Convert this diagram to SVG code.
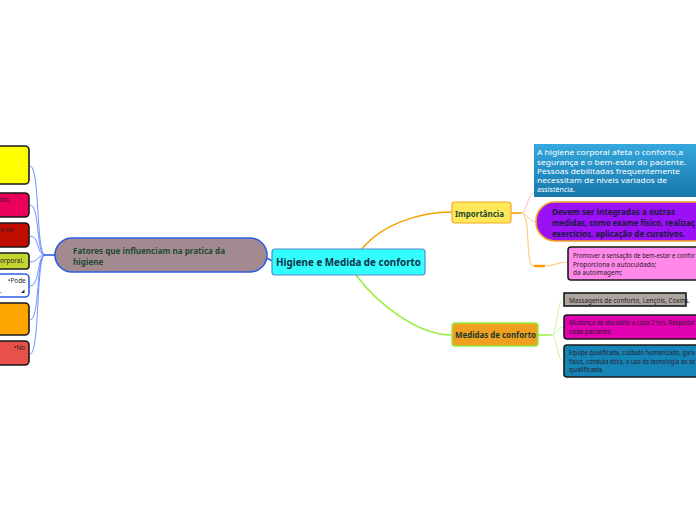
<svg xmlns="http://www.w3.org/2000/svg" width="696" height="520" viewBox="0 0 696 520">
<defs>
<linearGradient id="gblue" x1="0" y1="0" x2="0" y2="1">
<stop offset="0" stop-color="#36A8DE"/>
<stop offset="1" stop-color="#1878AC"/>
</linearGradient>
<style>
text{font-family:"Noto Sans","Open Sans","DejaVu Sans",sans-serif;}
.b{font-weight:bold;}
.lbox{stroke:#1a1a1a;stroke-width:1.6;}
.sm{font-size:6.4px;fill:#2a1a2a;}
.conn{fill:none;}
.lc{stroke:#6f8fff;stroke-width:1;fill:none;}
</style>
</defs>
<rect width="696" height="520" fill="#ffffff"/>
<g id="connectors">
<path class="lc" d="M45,255 C36,255 40,166 30,166"/>
<path class="lc" d="M45,255 C36,255 40,205 30,205"/>
<path class="lc" d="M45,255 C36,255 40,236 30,236"/>
<path class="lc" d="M45,255 C38,255 38,262 30,262"/>
<path class="lc" d="M45,255 C37,255 40,286 30,286"/>
<path class="lc" d="M45,255 C36,255 40,320 30,320"/>
<path class="lc" d="M45,255 C36,255 40,354 30,354"/>
<path d="M44,255 L56,255" stroke="#2F5FE0" stroke-width="1.6" fill="none"/>
<path d="M266,258 L273,261" stroke="#2F5FE0" stroke-width="1.6" fill="none"/>
<path class="conn" d="M362,249 C382,224 420,212 452,212" stroke="#F5A000" stroke-width="1.6"/>
<path class="conn" d="M356,275 C376,302 416,335 452,335" stroke="#98EE40" stroke-width="1.6"/>
<path class="conn" d="M510,213 L521,213" stroke="#F5A000" stroke-width="1.6"/>
<path class="conn" d="M521,213 C528,213 526,193 536,192" stroke="#FFB8C8" stroke-width="1"/>
<path class="conn" d="M521,213 C528,213 528,222 537,222" stroke="#FFC890" stroke-width="1"/>
<path class="conn" d="M521,213 C532,213 524,266 534,266 L545,266 C556,266 556,262 568,262" stroke="#FFCC88" stroke-width="1.2"/>
<path d="M534,266 L545,266" stroke="#F5A000" stroke-width="2.5" fill="none"/>
<path class="conn" d="M538,335 L551,335" stroke="#98EE40" stroke-width="1.5"/>
<path class="conn" d="M551,335 C558,335 556,299 564,299" stroke="#C8F5A0" stroke-width="1"/>
<path class="conn" d="M551,335 C558,335 556,327 564,327" stroke="#C8F5A0" stroke-width="1"/>
<path class="conn" d="M551,335 C558,335 556,361 564,361" stroke="#C8F5A0" stroke-width="1"/>
</g>
<g id="n-left1"><rect class="lbox" x="-10" y="146" width="39" height="38" rx="4" fill="#FFFF00"/></g>
<g id="n-left2"><rect class="lbox" x="-10" y="193" width="39" height="24" rx="4" fill="#E8005A"/><text class="sm" x="0" y="202">ico,</text></g>
<g id="n-left3"><rect class="lbox" x="-10" y="223" width="39" height="24" rx="4" fill="#C00D00"/><text class="sm" x="0" y="232">o no</text></g>
<g id="n-left4"><rect class="lbox" x="-10" y="253" width="39" height="16" rx="3" fill="#C3D530"/><text class="sm" x="0" y="263">orporal.</text></g>
<g id="n-left5"><rect x="-10" y="274" width="39" height="23" rx="4" fill="#ffffff" stroke="#2F5FE0" stroke-width="1.6"/><text class="sm" x="8" y="283">•Pode</text><text class="sm" x="0" y="293">.</text><path d="M21,293 L24.5,293 L24.5,289.5 Z" fill="#1a1a1a"/></g>
<g id="n-left6"><rect class="lbox" x="-10" y="303" width="39" height="32" rx="4" fill="#FFA500"/></g>
<g id="n-left7"><rect class="lbox" x="-10" y="341" width="39" height="24" rx="4" fill="#E8504A"/><text class="sm" x="14" y="350">•No</text></g>
<g id="n-fatores">
<rect x="55" y="238" width="212" height="34" rx="17" fill="#A38A91" stroke="#2F5FE0" stroke-width="1.6"/>
<text class="b" x="73" y="254" font-size="8.2" fill="#1E4A2E" textLength="152" lengthAdjust="spacingAndGlyphs">Fatores que influenciam na pratica da</text>
<text class="b" x="73" y="265" font-size="8.2" fill="#1E4A2E">higiene</text>
</g>
<g id="n-central">
<rect x="272" y="249" width="153" height="26" rx="3" fill="#33FFFF" stroke="#4A90D0" stroke-width="1.2"/>
<text class="b" x="276" y="266" font-size="11" fill="#12324A" textLength="145" lengthAdjust="spacingAndGlyphs">Higiene e Medida de conforto</text>
</g>
<g id="n-importancia">
<rect x="452" y="202" width="59" height="21" rx="3" fill="#FFE85A" stroke="#F5A623" stroke-width="1.2"/>
<text class="b" x="455" y="216.5" font-size="9" fill="#1E4A2E" textLength="49" lengthAdjust="spacingAndGlyphs">Importância</text>
</g>
<g id="n-medidas">
<rect x="452" y="323" width="86" height="23" rx="3" fill="#F0A020" stroke="#90EE40" stroke-width="1.4"/>
<text class="b" x="455" y="338" font-size="9" fill="#1E3A2E" textLength="81" lengthAdjust="spacingAndGlyphs">Medidas de conforto</text>
</g>
<g id="n-blue" font-size="7.4" fill="#ffffff">
<rect x="534" y="144" width="170" height="53" fill="url(#gblue)"/>
<text x="537" y="155" textLength="146" lengthAdjust="spacingAndGlyphs">A higiene corporal afeta o conforto,a</text>
<text x="537" y="164.5" textLength="149" lengthAdjust="spacingAndGlyphs">segurança e o bem-estar do paciente.</text>
<text x="537" y="174" textLength="143" lengthAdjust="spacingAndGlyphs">Pessoas debilitadas frequentemente</text>
<text x="537" y="183" textLength="130" lengthAdjust="spacingAndGlyphs">necessitam de níveis variados de</text>
<text x="537" y="192" textLength="38" lengthAdjust="spacingAndGlyphs">assistência.</text>
</g>
<g id="n-purple">
<rect x="536" y="202" width="180" height="39" rx="19" fill="#9B10F5" stroke="#F5A623" stroke-width="1.6"/>
<text class="b" x="552" y="214.5" font-size="8.6" fill="#1A1A40" textLength="123" lengthAdjust="spacingAndGlyphs">Devem ser integradas a outras</text>
<text class="b" x="552" y="225.5" font-size="8.6" fill="#1A1A40" textLength="143" lengthAdjust="spacingAndGlyphs">medidas, como exame físico, realizaç</text>
<text class="b" x="552" y="236.5" font-size="8.6" fill="#1A1A40" textLength="133" lengthAdjust="spacingAndGlyphs">exercícios, aplicação de curativos.</text>
</g>
<g id="n-pink">
<rect class="lbox" x="568" y="247" width="140" height="33" rx="3" fill="#FF88E8"/>
<text class="sm" x="573" y="258" textLength="122" lengthAdjust="spacingAndGlyphs">Promover a sensação de bem-estar e confor</text>
<text class="sm" x="573" y="266.5">Proporciona o autocuidado;</text>
<text class="sm" x="573" y="275">da autoimagem;</text>
</g>
<g id="n-grey">
<rect class="lbox" x="564" y="293" width="122" height="13" fill="#ABA59D"/>
<text class="sm" x="569" y="302.5">Massagens de conforto, Lençóis, Coxins.</text>
</g>
<g id="n-magenta">
<rect class="lbox" x="564" y="315" width="140" height="24" rx="3" fill="#E000B0"/>
<text class="sm" x="569" y="325" textLength="126" lengthAdjust="spacingAndGlyphs">Mudança de decúbito a cada 2 hrs. Respeitar</text>
<text class="sm" x="569" y="333.5">cada paciente.</text>
</g>
<g id="n-blue2">
<rect class="lbox" x="564" y="345" width="140" height="32" rx="3" fill="#1585B8"/>
<text class="sm" x="569" y="355" textLength="126" lengthAdjust="spacingAndGlyphs">Equipe qualificada, cuidado humanizado, gara</text>
<text class="sm" x="569" y="363.5" textLength="126" lengthAdjust="spacingAndGlyphs">físico, conduta ética, o uso da tecnologia ao se</text>
<text class="sm" x="569" y="372">qualificada.</text>
</g>
</svg>
